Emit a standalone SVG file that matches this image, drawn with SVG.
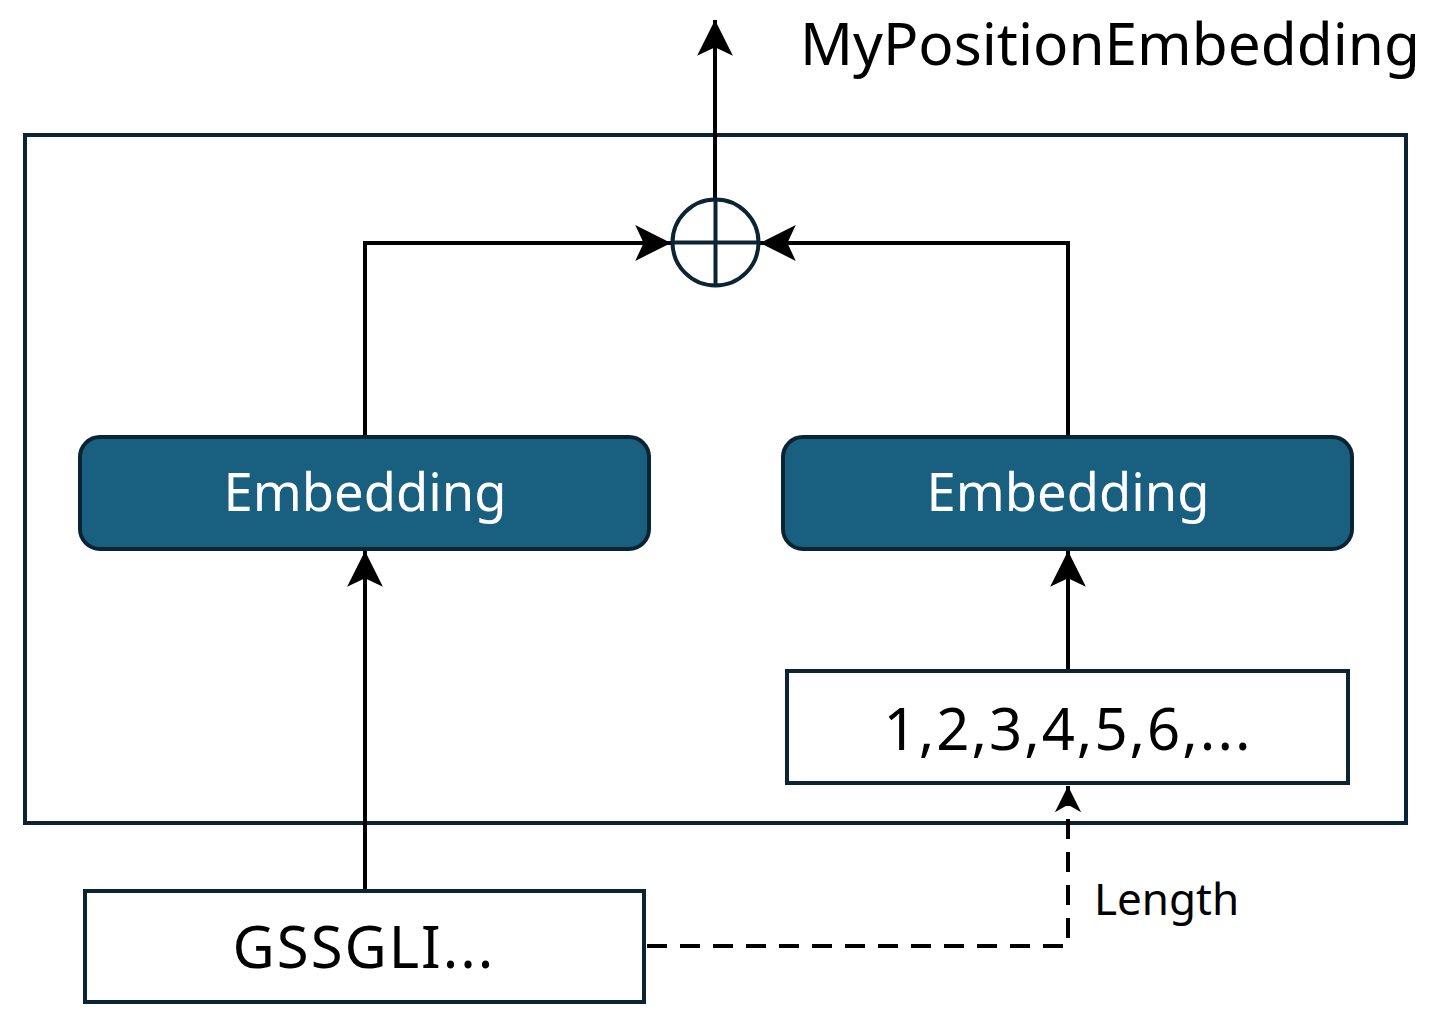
<svg xmlns="http://www.w3.org/2000/svg" width="1431" height="1026" viewBox="0 0 1431 1026">
<defs>
<style>
.frame{fill:none;stroke:#0b2433;stroke-width:4}
.emb{fill:#185f80;stroke:#0b2433;stroke-width:4}
.box{fill:#fff;stroke:#0b2433;stroke-width:4}
.conn{fill:none;stroke:#000;stroke-width:4}
.dash{stroke-dasharray:20 13}
.t{font-family:"Noto Sans","Open Sans",sans-serif;text-anchor:middle}
</style>
<marker id="ah" markerUnits="userSpaceOnUse" markerWidth="40" markerHeight="40" viewBox="-36 -18 38 36" refX="0" refY="0" orient="auto">
<path d="M0,0 L-34,-17 L-26,0 L-34,17 Z" fill="#000"/>
</marker>
<marker id="ahs" markerUnits="userSpaceOnUse" markerWidth="30" markerHeight="30" viewBox="-30 -14 32 28" refX="0" refY="0" orient="auto">
<path d="M0,0 L-28,-14 L-20,0 L-28,14 Z" fill="#000"/>
</marker>
</defs>
<rect class="frame" x="25" y="135" width="1381" height="688"/>
<g id="connectors">
<path class="conn" d="M715,198 L715,20" marker-end="url(#ah)"/>
<path class="conn" d="M365,437 L365,243 L671,243" marker-end="url(#ah)"/>
<path class="conn" d="M1068,437 L1068,243 L760,243" marker-end="url(#ah)"/>
<path class="conn" d="M365,891 L365,551" marker-end="url(#ah)"/>
<path class="conn" d="M1068,671 L1068,551" marker-end="url(#ah)"/>
<path class="conn dash" d="M647,946 L1068,946 L1068,786" marker-end="url(#ahs)"/>
</g>
<g id="sum">
<circle cx="715.5" cy="242.5" r="43" fill="#fff" stroke="#0b2433" stroke-width="4"/>
<path d="M672.5,242.5 H758.5 M715.5,199.5 V285.5" stroke="#0b2433" stroke-width="4"/>
</g>
<g id="emb-left">
<rect class="emb" x="80" y="437" width="569" height="112" rx="20"/>
<text class="t" x="365" y="511" font-size="52.5" fill="#fff">Embedding</text>
</g>
<g id="emb-right">
<rect class="emb" x="783" y="437" width="569" height="112" rx="20"/>
<text class="t" x="1068" y="511" font-size="52.5" fill="#fff">Embedding</text>
</g>
<g id="positions">
<rect class="box" x="787" y="671" width="561" height="112"/>
<text class="t" x="1068" y="750" font-size="58" letter-spacing="2" fill="#000">1,2,3,4,5,6,...</text>
</g>
<g id="sequence">
<rect class="box" x="85" y="891" width="559" height="111"/>
<text class="t" x="364" y="968" font-size="58" letter-spacing="2" fill="#000">GSSGLI...</text>
</g>
<text id="len-label" x="1094" y="915" font-family="Noto Sans, Open Sans, sans-serif" font-size="44" fill="#000">Length</text>
<text id="title" x="800" y="65" font-family="Noto Sans, Open Sans, sans-serif" font-size="58.5" fill="#000">MyPositionEmbedding</text>
</svg>
